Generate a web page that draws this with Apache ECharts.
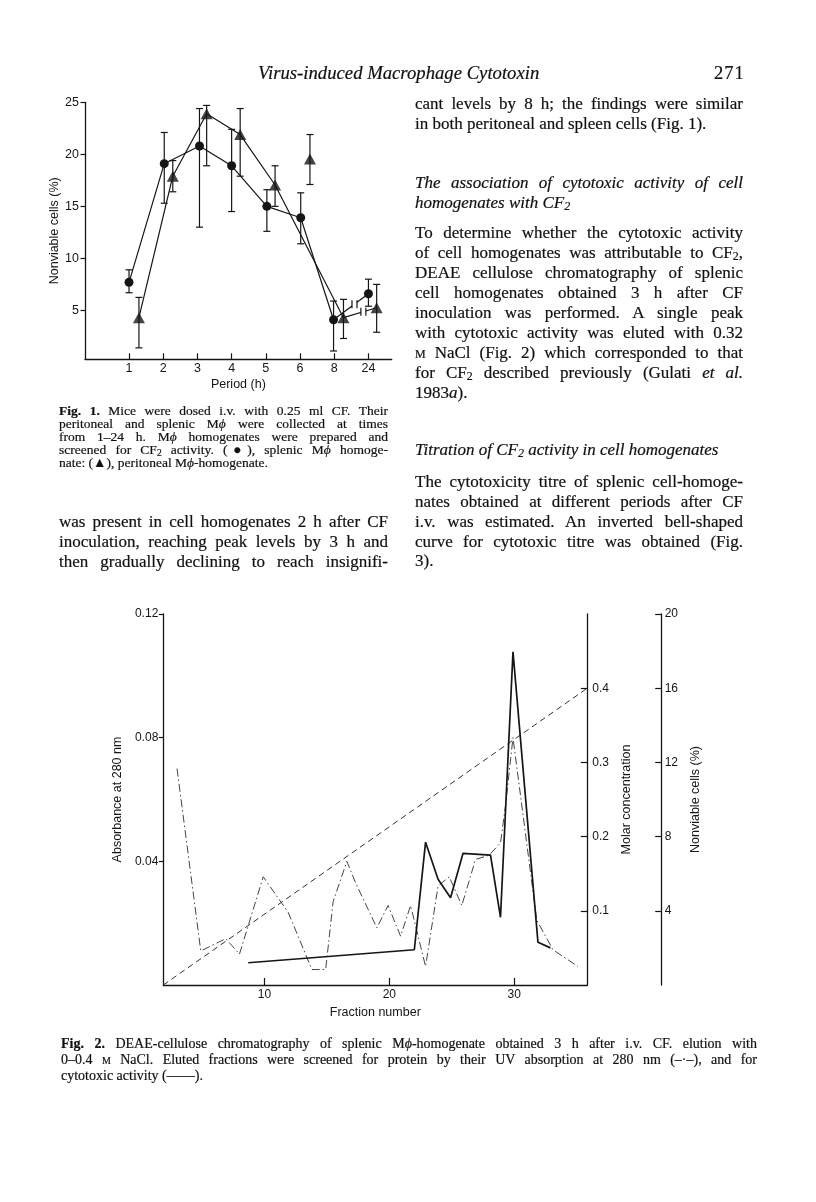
<!DOCTYPE html>
<html>
<head>
<meta charset="utf-8">
<script src="https://cdn.jsdelivr.net/npm/echarts@6/dist/echarts.min.js"></script>
<style>
  body { margin: 0; background: #fff; }
  #page { position: relative; width: 816px; height: 1202px; overflow: hidden;
          font-family: "Liberation Serif", "Times New Roman", serif; color: #111; }
  #chart { position: absolute; left: 0; top: 0; width: 816px; height: 1202px; }
  .ln { position: absolute; white-space: nowrap; font-size: 17px; height: 20px; line-height: 20px; -webkit-text-stroke: 0.2px #111; }
  .j { text-align: justify; text-align-last: justify; }
  .r { left: 415px; width: 328px; }
  .l { left: 59px; width: 329px; }
  .cap { font-size: 13.5px; height: 13px; line-height: 13px; }
  .cap2 { font-size: 14px; height: 16px; line-height: 16px; left: 61px; width: 696px; }
  .it { font-style: italic; }
  .sc { font-variant: small-caps; }
  sub { font-size: 70%; vertical-align: -2px; line-height: 0; }
</style>
</head>
<body>
<div id="page">
  <div id="chart"></div>

  <!-- header -->
  <div class="ln it" style="left:258px;top:63px;font-size:18.7px;">Virus-induced Macrophage Cytotoxin</div>
  <div class="ln" style="left:714px;top:63px;font-size:18.5px;letter-spacing:1px;">271</div>

  <!-- right column -->
  <div class="ln r j" style="top:94px;">cant levels by 8 h; the findings were similar</div>
  <div class="ln r" style="top:114px;">in both peritoneal and spleen cells (Fig. 1).</div>

  <div class="ln r j it" style="top:173px;">The association of cytotoxic activity of cell</div>
  <div class="ln r it" style="top:193px;">homogenates with CF<sub>2</sub></div>

  <div class="ln r j" style="top:223px;">To determine whether the cytotoxic activity</div>
  <div class="ln r j" style="top:243px;">of cell homogenates was attributable to CF<sub>2</sub>,</div>
  <div class="ln r j" style="top:263px;">DEAE cellulose chromatography of splenic</div>
  <div class="ln r j" style="top:283px;">cell homogenates obtained 3 h after CF</div>
  <div class="ln r j" style="top:303px;">inoculation was performed. A single peak</div>
  <div class="ln r j" style="top:323px;">with cytotoxic activity was eluted with 0.32</div>
  <div class="ln r j" style="top:343px;"><span class="sc">m</span> NaCl (Fig. 2) which corresponded to that</div>
  <div class="ln r j" style="top:363px;">for CF<sub>2</sub> described previously (Gulati <i>et al.</i></div>
  <div class="ln r" style="top:383px;">1983<i>a</i>).</div>

  <div class="ln r it" style="top:440px;">Titration of CF<sub>2</sub> activity in cell homogenates</div>

  <div class="ln r j" style="top:472px;">The cytotoxicity titre of splenic cell-homoge-</div>
  <div class="ln r j" style="top:492px;">nates obtained at different periods after CF</div>
  <div class="ln r j" style="top:512px;">i.v. was estimated. An inverted bell-shaped</div>
  <div class="ln r j" style="top:532px;">curve for cytotoxic titre was obtained (Fig.</div>
  <div class="ln r" style="top:551px;">3).</div>

  <!-- left column: Fig. 1 caption -->
  <div class="ln l j cap" style="top:404px;"><b>Fig. 1.</b> Mice were dosed i.v. with 0.25 ml CF. Their</div>
  <div class="ln l j cap" style="top:417px;">peritoneal and splenic M<i>ϕ</i> were collected at times</div>
  <div class="ln l j cap" style="top:430px;">from 1–24 h. M<i>ϕ</i> homogenates were prepared and</div>
  <div class="ln l j cap" style="top:443px;">screened for CF<sub>2</sub> activity. (●), splenic M<i>ϕ</i> homoge-</div>
  <div class="ln l cap" style="top:456px;">nate: (▲), peritoneal M<i>ϕ</i>-homogenate.</div>

  <div class="ln l j" style="top:512px;">was present in cell homogenates 2 h after CF</div>
  <div class="ln l j" style="top:532px;">inoculation, reaching peak levels by 3 h and</div>
  <div class="ln l j" style="top:552px;">then gradually declining to reach insignifi-</div>

  <!-- Fig. 2 caption -->
  <div class="ln j cap2" style="top:1036px;"><b>Fig. 2.</b> DEAE-cellulose chromatography of splenic M<i>ϕ</i>-homogenate obtained 3 h after i.v. CF. elution with</div>
  <div class="ln j cap2" style="top:1052px;">0–0.4 <span class="sc">m</span> NaCl. Eluted fractions were screened for protein by their UV absorption at 280 nm (–·–), and for</div>
  <div class="ln cap2" style="top:1068px;">cytotoxic activity (——).</div>
</div>

<script>
// Fig. 1 -- period after CF (h), placed at evenly spaced positions
var periodLabels = ['1', '2', '3', '4', '5', '6', '8', '24'];
var periodTicks = [1, 2, 3, 4, 5, 6, 7, 8];

// splenic M-phi homogenate (circles)
var splenicX = [1.0, 2.03, 3.06, 4.0, 5.03, 6.02, 6.98, 8.0];
var splenicMean = [7.7, 19.1, 20.8, 18.9, 15.0, 13.9, 4.1, 6.6];
var splenicHigh = [8.9, 22.1, 24.4, 22.4, 16.6, 16.3, 5.9, 8.0];
var splenicLow = [6.7, 15.3, 13.0, 14.5, 12.6, 11.4, 1.1, 5.4];

// peritoneal M-phi homogenate (triangles); the 6 h point is not joined
var peritonealX = [1.29, 2.28, 3.27, 4.25, 5.27, 6.29, 7.27, 8.24];
var peritonealMean = [4.3, 17.9, 23.9, 21.9, 17.05, 19.55, 4.3, 5.25];
var peritonealHigh = [6.25, 19.4, 24.7, 24.4, 18.9, 21.9, 6.06, 7.5];
var peritonealLow = [1.4, 16.4, 18.9, 17.9, 15.0, 17.1, 2.3, 2.9];
var peritonealJoined = [true, true, true, true, true, false, true, true];

// Fig. 2 -- DEAE cellulose chromatography
var absFraction = [3.0, 4.9, 6.9, 8.0, 9.9, 11.9, 13.8, 14.9, 15.5, 16.6, 17.3, 19.0, 19.9, 20.9, 21.7,
                   22.9, 23.9, 24.8, 25.8, 26.9, 28.0, 28.9, 29.3, 29.9, 31.8, 33.1, 35.1];
var absValue = [0.070, 0.011, 0.015, 0.010, 0.035, 0.0235, 0.005, 0.005, 0.027, 0.040, 0.033, 0.0185, 0.0257, 0.0158, 0.0257,
                0.006, 0.032, 0.035, 0.0257, 0.0406, 0.042, 0.046, 0.058, 0.080, 0.021, 0.0114, 0.006];
var cytoFraction = [8.7, 22.0, 22.9, 23.9, 24.9, 25.9, 28.1, 28.9, 29.9, 31.9, 32.9];
var cytoValue = [1.2, 1.9, 7.7, 5.7, 4.7, 7.1, 7.0, 3.65, 17.96, 2.3, 2.0];
var gradientFraction = [1.9, 35.85];
var gradientMolar = [0, 0.4];

var fractionTicks = [10, 20, 30];
var absTicks = [0.04, 0.08, 0.12];
var molarTicks = [0.1, 0.2, 0.3, 0.4];
var nonviableTicks = [4, 8, 12, 16, 20];
var fig1Ticks = [5, 10, 15, 20, 25];

// squeeze any justified line that is too long for its column
document.querySelectorAll('.j').forEach(function (el) {
  var ls = 0;
  while (el.scrollWidth > el.clientWidth + 0.5 && ls > -1.5) {
    ls -= 0.1;
    el.style.letterSpacing = ls + 'px';
  }
});

function pairs(xs, ys) {
  var out = [];
  for (var i = 0; i < xs.length; i++) out.push([xs[i], ys[i]]);
  return out;
}
function triples(xs, lo, hi) {
  var out = [];
  for (var i = 0; i < xs.length; i++) out.push([xs[i], lo[i], hi[i]]);
  return out;
}
var peritonealLine = [];
for (var i = 0; i < peritonealX.length; i++) {
  if (peritonealJoined[i]) peritonealLine.push([peritonealX[i], peritonealMean[i]]);
}
// axis-break marks on the 8 h -> 24 h segments
var last = splenicX.length - 1;
var breakData = [
  [splenicX[last - 1], splenicMean[last - 1], splenicX[last], splenicMean[last]],
  [peritonealX[last - 1], peritonealMean[last - 1], peritonealX[last], peritonealMean[last]]
];

var ink = '#151515';
var sans = '"Liberation Sans", Arial, Helvetica, sans-serif';
var lbl = { color: ink, fontFamily: sans, fontSize: 12.5 };

function errorBars(params, api) {
  var x = api.value(0);
  var top = api.coord([x, api.value(2)]);
  var bot = api.coord([x, api.value(1)]);
  var w = 3.5;
  var st = { stroke: ink, lineWidth: 1.2 };
  return {
    type: 'group',
    children: [
      { type: 'line', shape: { x1: top[0], y1: top[1], x2: bot[0], y2: bot[1] }, style: st },
      { type: 'line', shape: { x1: top[0] - w, y1: top[1], x2: top[0] + w, y2: top[1] }, style: st },
      { type: 'line', shape: { x1: bot[0] - w, y1: bot[1], x2: bot[0] + w, y2: bot[1] }, style: st }
    ]
  };
}

function breakMarks(params, api) {
  var a = api.coord([api.value(0), api.value(1)]);
  var b = api.coord([api.value(2), api.value(3)]);
  var t = 0.6;
  var cx = a[0] + (b[0] - a[0]) * t, cy = a[1] + (b[1] - a[1]) * t;
  var st = { stroke: ink, lineWidth: 1.2 };
  return {
    type: 'group',
    children: [
      { type: 'rect', shape: { x: cx - 2.5, y: cy - 3, width: 5, height: 6 }, style: { fill: '#fff' } },
      { type: 'line', shape: { x1: cx - 2.5, y1: cy - 4, x2: cx - 2.5, y2: cy + 4 }, style: st },
      { type: 'line', shape: { x1: cx + 2.5, y1: cy - 4, x2: cx + 2.5, y2: cy + 4 }, style: st }
    ]
  };
}

var chart = echarts.init(document.getElementById('chart'));
var option = {
  animation: false,
  backgroundColor: 'transparent',
  grid: [
    { left: 85, top: 102.3, width: 306.7, height: 257 },
    { left: 163.3, top: 614, width: 424, height: 371 }
  ],
  xAxis: [
    {
      gridIndex: 0, type: 'value', min: -0.287, max: 8.68,
      axisLine: { show: true, onZero: false, lineStyle: { color: ink, width: 1.3 } },
      axisTick: { show: true, inside: true, length: 6, customValues: periodTicks, lineStyle: { color: ink, width: 1.2 } },
      axisLabel: { customValues: periodTicks, margin: 3, formatter: function (v) { return periodLabels[Math.round(v) - 1]; }, color: ink, fontFamily: sans, fontSize: 12.5 },
      splitLine: { show: false },
      name: 'Period (h)', nameLocation: 'middle', nameGap: 19, nameTextStyle: lbl
    },
    {
      gridIndex: 1, type: 'value', min: 1.9, max: 35.85,
      axisLine: { show: true, onZero: false, lineStyle: { color: ink, width: 1.3 } },
      axisTick: { show: true, inside: true, length: 7, customValues: fractionTicks, lineStyle: { color: ink, width: 1.2 } },
      axisLabel: { customValues: fractionTicks, margin: 4, color: ink, fontFamily: sans, fontSize: 12 },
      splitLine: { show: false },
      name: 'Fraction number', nameLocation: 'middle', nameGap: 21, nameTextStyle: { color: ink, fontFamily: sans, fontSize: 12.5 }
    }
  ],
  yAxis: [
    {
      gridIndex: 0, type: 'value', min: 0.3, max: 25,
      axisLine: { show: true, onZero: false, lineStyle: { color: ink, width: 1.3 } },
      axisTick: { show: true, length: 4.5, customValues: fig1Ticks, lineStyle: { color: ink, width: 1.2 } },
      axisLabel: { customValues: fig1Ticks, margin: 6, color: ink, fontFamily: sans, fontSize: 12.5 },
      splitLine: { show: false },
      name: 'Nonviable cells (%)', nameLocation: 'middle', nameRotate: 90, nameGap: 22, nameTextStyle: lbl
    },
    {
      gridIndex: 1, type: 'value', min: 0, max: 0.12,
      axisLine: { show: true, onZero: false, lineStyle: { color: ink, width: 1.3 } },
      axisTick: { show: true, length: 4.5, customValues: absTicks, lineStyle: { color: ink, width: 1.2 } },
      axisLabel: { customValues: absTicks, margin: 5, formatter: function (v) { return v.toFixed(2); }, color: ink, fontFamily: sans, fontSize: 12 },
      splitLine: { show: false },
      name: 'Absorbance at 280 nm', nameLocation: 'middle', nameRotate: 90, nameGap: 34, nameTextStyle: lbl
    },
    {
      gridIndex: 1, type: 'value', position: 'right', min: 0, max: 0.5,
      axisLine: { show: true, onZero: false, lineStyle: { color: ink, width: 1.3 } },
      axisTick: { show: true, inside: true, length: 6.5, customValues: molarTicks, lineStyle: { color: ink, width: 1.2 } },
      axisLabel: { customValues: molarTicks, margin: 5, formatter: function (v) { return v.toFixed(1); }, color: ink, fontFamily: sans, fontSize: 12 },
      splitLine: { show: false },
      name: 'Molar concentration', nameLocation: 'middle', nameRotate: 90, nameGap: 31, nameTextStyle: lbl
    },
    {
      gridIndex: 1, type: 'value', position: 'right', offset: 74.4, min: 0, max: 20,
      axisLine: { show: true, onZero: false, lineStyle: { color: ink, width: 1.3 } },
      axisTick: { show: true, inside: true, length: 6.5, customValues: nonviableTicks, lineStyle: { color: ink, width: 1.2 } },
      axisLabel: { customValues: nonviableTicks, margin: 3, color: ink, fontFamily: sans, fontSize: 12 },
      splitLine: { show: false },
      name: 'Nonviable cells (%)', nameLocation: 'middle', nameRotate: 90, nameGap: 24, nameTextStyle: lbl
    }
  ],
  series: [
    // Fig. 1
    { type: 'custom', xAxisIndex: 0, yAxisIndex: 0, renderItem: errorBars, data: triples(splenicX, splenicLow, splenicHigh), z: 2 },
    { type: 'custom', xAxisIndex: 0, yAxisIndex: 0, renderItem: errorBars, data: triples(peritonealX, peritonealLow, peritonealHigh), z: 2 },
    {
      type: 'line', xAxisIndex: 0, yAxisIndex: 0, data: pairs(splenicX, splenicMean),
      symbol: 'circle', symbolSize: 9, itemStyle: { color: ink }, lineStyle: { color: ink, width: 1.2 }, z: 3
    },
    {
      type: 'line', xAxisIndex: 0, yAxisIndex: 0, data: peritonealLine,
      symbol: 'none', lineStyle: { color: ink, width: 1.2 }, z: 3
    },
    { type: 'custom', xAxisIndex: 0, yAxisIndex: 0, renderItem: breakMarks, data: breakData, z: 4 },
    {
      type: 'scatter', xAxisIndex: 0, yAxisIndex: 0, data: pairs(peritonealX, peritonealMean),
      symbol: 'triangle', symbolSize: [12, 11], itemStyle: { color: ink }, z: 5
    },
    // Fig. 2
    {
      type: 'line', xAxisIndex: 1, yAxisIndex: 2, data: pairs(gradientFraction, gradientMolar),
      symbol: 'none', lineStyle: { color: '#333', width: 1, type: [6, 4] }
    },
    {
      type: 'line', xAxisIndex: 1, yAxisIndex: 1, data: pairs(absFraction, absValue),
      symbol: 'none', lineStyle: { color: '#444', width: 1, type: [8, 3, 1.5, 3] }
    },
    {
      type: 'line', xAxisIndex: 1, yAxisIndex: 3, data: pairs(cytoFraction, cytoValue),
      symbol: 'none', lineStyle: { color: ink, width: 1.7 }
    }
  ]
};
chart.setOption(option);
</script>
</body>
</html>
